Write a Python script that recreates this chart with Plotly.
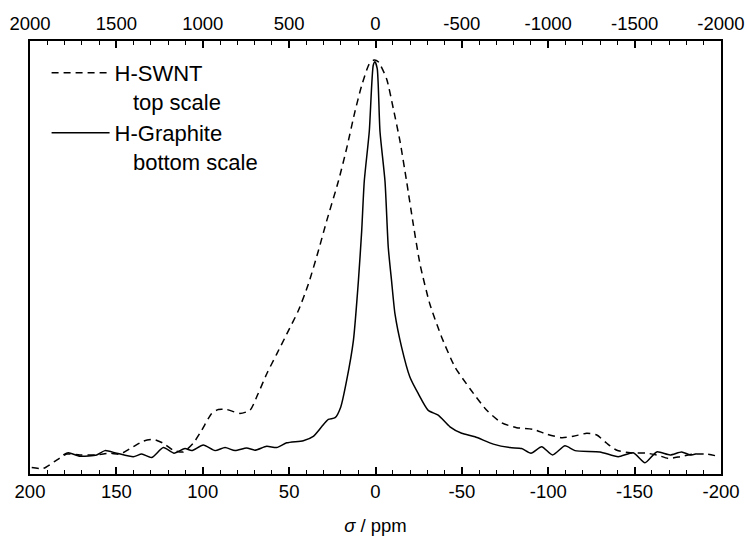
import plotly.graph_objects as go

# H-Graphite (bottom scale, ppm)
graphite_ppm = [180.7, 177.8, 171.0, 161.4, 156.6, 149.8, 140.2, 135.3, 129.6, 122.8,
                116.6, 110.3, 106.4, 99.7, 92.9, 87.1, 81.3, 74.6, 69.8, 63.0,
                57.2, 51.4, 41.8, 36.0, 31.2, 27.3, 23.4, 20.1, 16.7, 12.8,
                9.9, 8.0, 6.5, 3.6, 1.3, 0.3, -1.0, -2.6, -5.5, -7.4,
                -9.3, -11.3, -15.1, -19.9, -24.7, -30.5, -36.3, -43.1, -49.9, -57.6,
                -68.2, -77.8, -84.6, -90.0, -96.2, -102.5, -109.7, -115.5, -129.9, -140.5,
                -149.2, -156.0, -162.8, -170.5, -177.2, -182.1, -186.0]
graphite_int = [0.044, 0.049, 0.041, 0.044, 0.054, 0.048, 0.040, 0.046, 0.038, 0.061,
                0.048, 0.059, 0.054, 0.067, 0.054, 0.061, 0.054, 0.060, 0.055, 0.064,
                0.061, 0.072, 0.077, 0.087, 0.109, 0.126, 0.130, 0.155, 0.216, 0.308,
                0.446, 0.561, 0.676, 0.791, 0.944, 0.952, 0.936, 0.791, 0.676, 0.523,
                0.446, 0.369, 0.293, 0.224, 0.186, 0.147, 0.136, 0.109, 0.094, 0.086,
                0.069, 0.061, 0.059, 0.048, 0.063, 0.044, 0.065, 0.054, 0.051, 0.040,
                0.049, 0.026, 0.051, 0.044, 0.051, 0.044, 0.047]

# H-SWNT (top scale, ppm)
swnt_ppm = [1990, 1923, 1846, 1788, 1711, 1614, 1537, 1479, 1402, 1344,
            1286, 1228, 1170, 1113, 1055, 1006, 948, 910, 862, 785,
            727, 679, 630, 572, 514, 447, 389, 331, 283, 215,
            167, 119, 80, 36, 9, -16, -64, -103, -142, -180,
            -219, -258, -315, -383, -460, -547, -644, -731, -817, -914,
            -991, -1078, -1145, -1223, -1281, -1339, -1397, -1474, -1570, -1628,
            -1695, -1763, -1840, -1917, -1994]
swnt_int = [0.015, 0.013, 0.032, 0.046, 0.044, 0.044, 0.048, 0.046, 0.063, 0.076,
            0.080, 0.071, 0.055, 0.051, 0.071, 0.101, 0.140, 0.149, 0.149, 0.140,
            0.147, 0.186, 0.231, 0.277, 0.323, 0.377, 0.438, 0.515, 0.584, 0.676,
            0.752, 0.837, 0.897, 0.947, 0.956, 0.952, 0.913, 0.844, 0.768, 0.676,
            0.576, 0.484, 0.392, 0.316, 0.247, 0.197, 0.147, 0.118, 0.107, 0.103,
            0.092, 0.084, 0.087, 0.094, 0.090, 0.071, 0.055, 0.049, 0.048, 0.044,
            0.036, 0.040, 0.046, 0.046, 0.040]

bottom_ticks = [200, 150, 100, 50, 0, -50, -100, -150, -200]
top_ticks = [2000, 1500, 1000, 500, 0, -500, -1000, -1500, -2000]

FONT = "Liberation Sans, Arial, sans-serif"
nb = "\u00a0"

fig = go.Figure()
fig.add_trace(go.Scatter(
    x=swnt_ppm, y=swnt_int, xaxis="x2", yaxis="y", mode="lines",
    line=dict(color="black", width=1.5, dash="7px,5px", shape="spline", smoothing=0.6),
    name="H-SWNT<br>" + nb * 3 + "top scale"))
fig.add_trace(go.Scatter(
    x=graphite_ppm, y=graphite_int, xaxis="x", yaxis="y", mode="lines",
    line=dict(color="black", width=1.5, shape="spline", smoothing=0.6),
    name="H-Graphite<br>" + nb * 3 + "bottom scale"))

axis_common = dict(
    showgrid=False, zeroline=False, showline=True, linecolor="black", linewidth=1.8,
    ticks="inside", ticklen=7, tickwidth=1.5, tickcolor="black", automargin=False,
    tickfont=dict(family=FONT, size=18.5, color="black"),
)

fig.update_layout(
    width=747, height=536,
    margin=dict(l=30, r=26, t=41, b=62, autoexpand=False),
    paper_bgcolor="white", plot_bgcolor="white",
    font=dict(family=FONT, color="black"),
    showlegend=True,
    legend=dict(x=0.024, y=0.975, xanchor="left", yanchor="top",
                bgcolor="rgba(0,0,0,0)", font=dict(family=FONT, size=22, color="black"),
                valign="top", itemwidth=58, tracegroupgap=0),
    xaxis=dict(range=[200, -200], tickvals=bottom_ticks, ticktext=[str(v) for v in bottom_ticks],
               minor=dict(dtick=10, ticks="inside", ticklen=4, tickwidth=1.3, tickcolor="black"),
               title=dict(text="<i>σ</i> / ppm", font=dict(family=FONT, size=18.5, color="black"), standoff=21),
               **axis_common),
    xaxis2=dict(range=[2000, -2000], overlaying="x", side="top", anchor="y",
                tickvals=top_ticks, ticktext=[str(v) for v in top_ticks], ticklabelstandoff=2,
                minor=dict(dtick=100, ticks="inside", ticklen=4, tickwidth=1.3, tickcolor="black"),
                **axis_common),
    yaxis=dict(range=[0, 1], showgrid=False, zeroline=False, showticklabels=False, automargin=False,
               ticks="", showline=True, mirror=True, linecolor="black", linewidth=1.8),
)

fig.write_html("out.html", config={"displayModeBar": False},
               post_script="document.body.style.margin='0';document.body.style.overflow='hidden';")
